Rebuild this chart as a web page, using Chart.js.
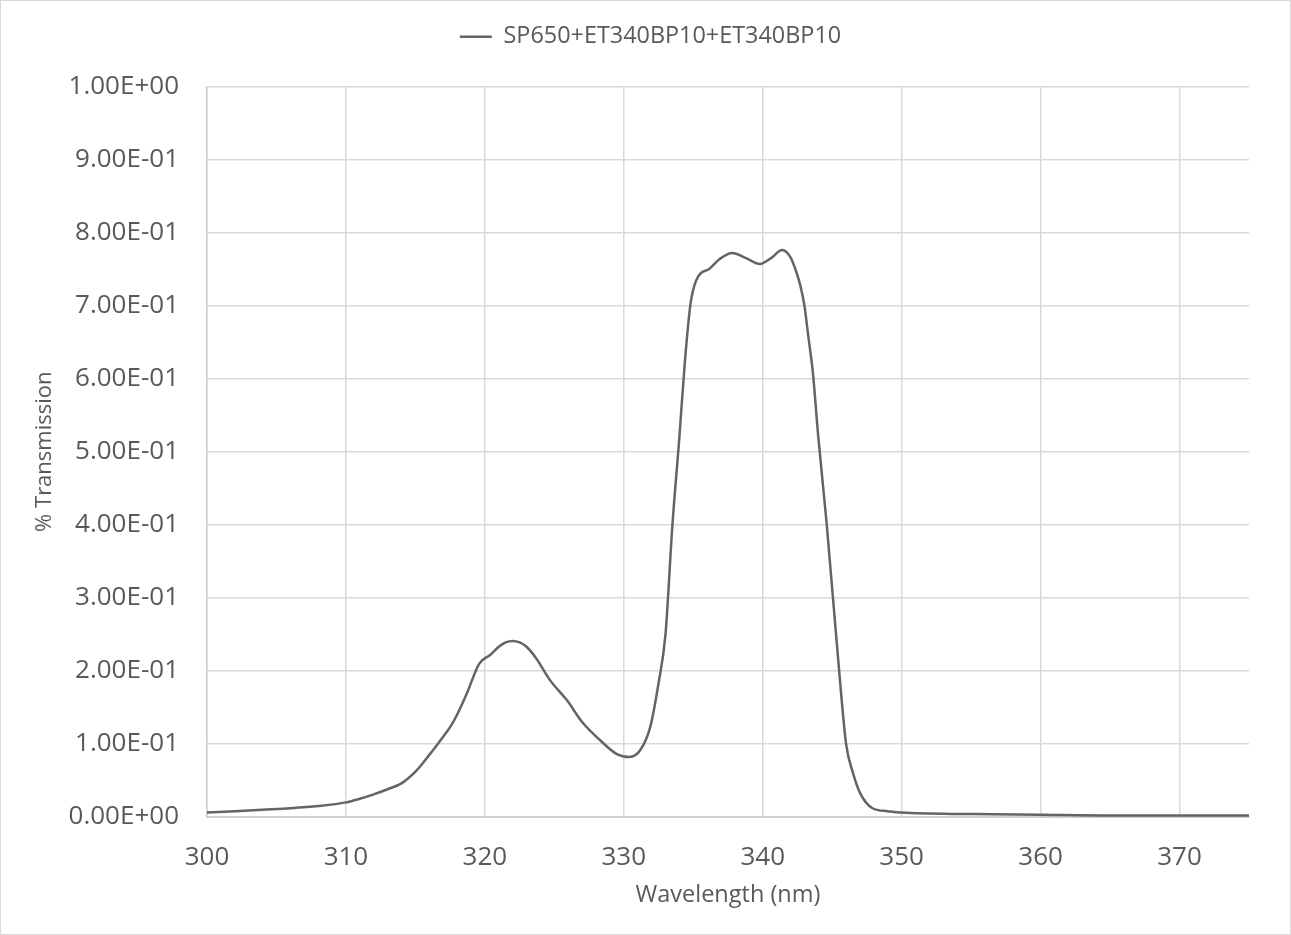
<!DOCTYPE html>
<html>
<head>
<meta charset="utf-8">
<script src="https://cdn.jsdelivr.net/npm/chart.js@4/dist/chart.umd.min.js"></script>
<style>
  html, body { margin: 0; padding: 0; background: #fff; }
  #wrap { width: 1291px; height: 935px; }
</style>
</head>
<body>
<div id="wrap"><canvas id="transChart" width="1291" height="935"></canvas></div>
<script>
// Series
const seriesName = 'SP650+ET340BP10+ET340BP10';
const wavelengths = [
  300, 302, 304, 306, 308, 310, 311, 312, 313, 314, 315, 316, 317, 317.5, 318, 318.7,
  319.6, 320.4, 321, 321.5, 322, 322.5, 323, 323.7, 324.7, 325.9, 327, 328.3, 329.5, 330.4, 331.2,
  331.9, 332.5, 333, 333.5, 334, 334.4, 334.8, 335.2, 336.2, 337, 337.8, 338.8, 339.8,
  340.6, 341.4, 342, 342.4, 342.7, 343, 343.3, 343.6, 344, 344.6, 345.5, 346, 346.5, 347, 347.9,
  349, 350, 355, 360, 365, 370, 375
];
const transmission = [
  0.006, 0.008, 0.010, 0.012, 0.015, 0.020, 0.025, 0.031, 0.038, 0.046, 0.062, 0.085, 0.110, 0.123, 0.140, 0.169,
  0.210, 0.222, 0.233, 0.239, 0.241, 0.239, 0.233, 0.217, 0.187, 0.160, 0.130, 0.105, 0.086, 0.082, 0.092,
  0.123, 0.183, 0.250, 0.400, 0.520, 0.624, 0.702, 0.734, 0.751, 0.765, 0.772, 0.765, 0.757,
  0.765, 0.776, 0.766, 0.747, 0.728, 0.700, 0.655, 0.610, 0.520, 0.402, 0.200, 0.100, 0.060, 0.033, 0.012,
  0.008, 0.006, 0.004, 0.003, 0.002, 0.002, 0.002
];
const yTickLabels = ['0.00E+00', '1.00E-01', '2.00E-01', '3.00E-01', '4.00E-01', '5.00E-01',
  '6.00E-01', '7.00E-01', '8.00E-01', '9.00E-01', '1.00E+00'];
const xTickLabels = ['300', '310', '320', '330', '340', '350', '360', '370'];

const textGray = '#595959';
const gridGray = '#d9d9d9';
const lineGray = '#646464';
const fontFamily = '"Open Sans", sans-serif';

// white background + thin frame round the whole picture
const frame = {
  id: 'frame',
  beforeDraw(chart) {
    const c = chart.ctx;
    c.save();
    c.fillStyle = '#fff';
    c.fillRect(0, 0, chart.width, chart.height);
    c.strokeStyle = '#d9d9d9';
    c.lineWidth = 1;
    c.strokeRect(0.5, 0.5, chart.width - 1, chart.height - 1);
    c.restore();
  }
};

// leave a gap under the legend and nudge it right, like the original
const legendGap = {
  id: 'legendGap',
  beforeLayout(chart) {
    const lg = chart.legend;
    if (lg && !lg._gapPatched) {
      const fit = lg.fit.bind(lg);
      lg.fit = function () { fit(); this.height += 28; };
      lg._gapPatched = true;
    }
  },
  afterLayout(chart) {
    const lg = chart.legend;
    if (lg) { lg.left += 12; lg.right += 12; }
  }
};

const ctx = document.getElementById('transChart').getContext('2d');
new Chart(ctx, {
  type: 'line',
  data: {
    datasets: [{
      label: seriesName,
      data: wavelengths.map((w, i) => ({ x: w, y: transmission[i] })),
      borderColor: lineGray,
      backgroundColor: lineGray,
      borderWidth: 2.5,
      pointRadius: 0,
      cubicInterpolationMode: 'monotone',
      fill: false
    }]
  },
  plugins: [frame, legendGap],
  options: {
    responsive: false,
    animation: false,
    layout: { padding: { top: 13, right: 42, left: 28, bottom: 22 } },
    plugins: {
      legend: {
        position: 'top',
        labels: {
          color: textGray,
          font: { family: fontFamily, size: 23.4 },
          usePointStyle: true,
          pointStyle: 'line',
          pointStyleWidth: 32,
          boxHeight: 2,
          padding: 12
        }
      },
      tooltip: { enabled: false }
    },
    scales: {
      x: {
        type: 'linear',
        min: 300,
        max: 375,
        afterFit: s => { s.height = 96; },
        afterBuildTicks: s => { s.ticks = xTickLabels.map(t => ({ value: Number(t) })); },
        ticks: {
          color: textGray,
          font: { family: fontFamily, size: 26 },
          padding: 25,
          maxRotation: 0,
          callback: v => xTickLabels.find(t => Number(t) === v)
        },
        grid: { color: gridGray, lineWidth: 1.5, drawTicks: false },
        border: { color: '#cfcfcf', width: 2 },
        title: {
          display: true,
          text: 'Wavelength (nm)',
          color: textGray,
          font: { family: fontFamily, size: 23.5 }
        }
      },
      y: {
        min: 0,
        max: 1,
        afterFit: s => { s.width = 179; },
        afterBuildTicks: s => { s.ticks = yTickLabels.map((t, i) => ({ value: i / 10 })); },
        ticks: {
          color: textGray,
          font: { family: fontFamily, size: 26 },
          padding: 28,
          callback: (v, i) => yTickLabels[i]
        },
        grid: { color: gridGray, lineWidth: 1.5, drawTicks: false },
        border: { color: '#cfcfcf', width: 1.5 },
        title: {
          display: true,
          text: '% Transmission',
          color: textGray,
          font: { family: fontFamily, size: 22 }
        }
      }
    }
  }
});
</script>
</body>
</html>
